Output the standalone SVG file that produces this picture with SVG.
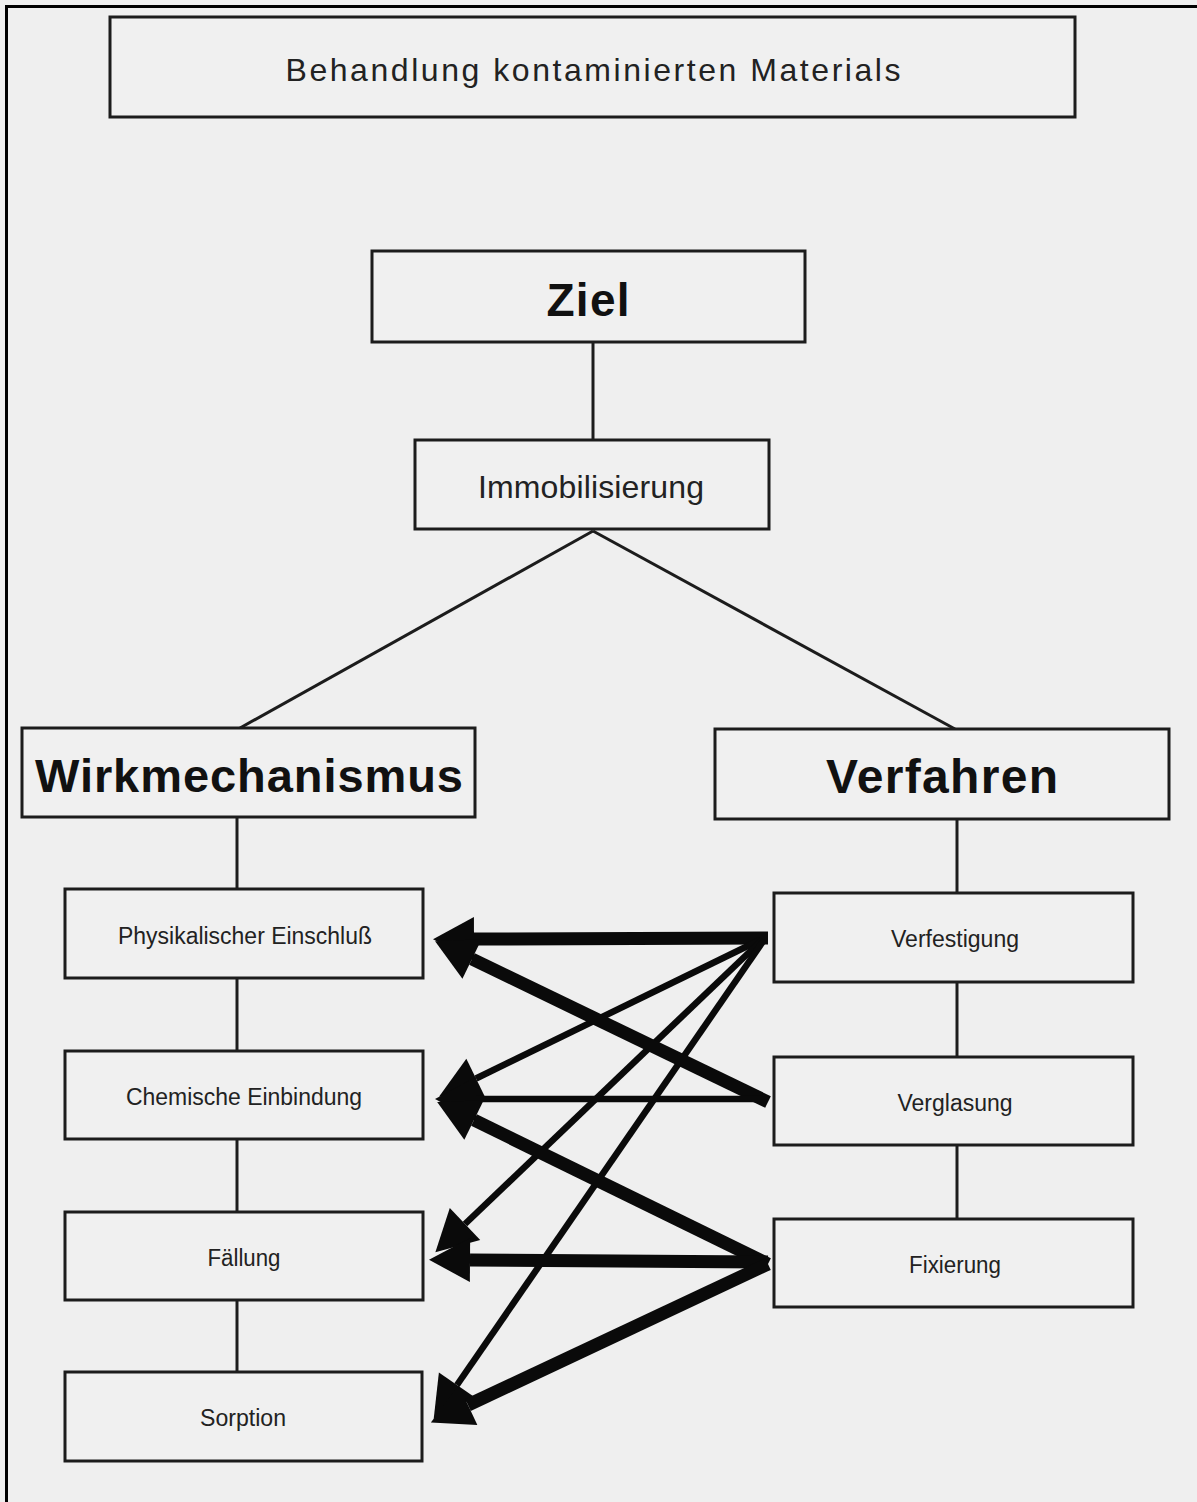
<svg xmlns="http://www.w3.org/2000/svg" width="1197" height="1502" viewBox="0 0 1197 1502">
<style>
.box{fill:#f0f0f0;stroke:#1c1c1c;stroke-width:3}
.ln{stroke:#1c1c1c;stroke-width:3;fill:none}
.thick{stroke:#0a0a0a;stroke-width:13;fill:none}
.thin{stroke:#0a0a0a;stroke-width:6.5;fill:none}
.t{font-family:"Liberation Sans",Arial,sans-serif;fill:#222;text-anchor:middle}
.b{font-family:"Liberation Sans",Arial,sans-serif;font-weight:bold;fill:#111;text-anchor:middle}
</style>
<defs>
<marker id="ah" markerUnits="userSpaceOnUse" viewBox="0 -23 42 46" markerWidth="42" markerHeight="46" refX="0" refY="0" orient="auto" overflow="visible">
<path d="M0,-22 L41,0 L0,22 Z" fill="#0a0a0a"/>
</marker>
</defs>
<rect x="0" y="0" width="1197" height="1502" fill="#efefef"/>
<path d="M6.5,1502 V6.5 H1197" fill="none" stroke="#000" stroke-width="3"/>

<g id="connectors">
<line class="ln" x1="593" y1="342" x2="593" y2="440"/>
<line class="ln" x1="593" y1="531" x2="240" y2="728"/>
<line class="ln" x1="593" y1="531" x2="955" y2="729"/>
<line class="ln" x1="237" y1="817" x2="237" y2="889"/>
<line class="ln" x1="237" y1="978" x2="237" y2="1051"/>
<line class="ln" x1="237" y1="1139" x2="237" y2="1212"/>
<line class="ln" x1="237" y1="1300" x2="237" y2="1372"/>
<line class="ln" x1="957" y1="819" x2="957" y2="893"/>
<line class="ln" x1="957" y1="982" x2="957" y2="1057"/>
<line class="ln" x1="957" y1="1145" x2="957" y2="1219"/>
<line class="thick" x1="768" y1="938" x2="474" y2="939" marker-end="url(#ah)"/>
<line class="thin" x1="760" y1="940" x2="476" y2="1078.5" marker-end="url(#ah)"/>
<line class="thin" x1="762" y1="940" x2="465" y2="1224" marker-end="url(#ah)"/>
<line class="thin" x1="764" y1="940" x2="457" y2="1385" marker-end="url(#ah)"/>
<line class="thick" x1="768" y1="1102" x2="472" y2="959" marker-end="url(#ah)"/>
<line class="thin" x1="762" y1="1099" x2="476" y2="1099" marker-end="url(#ah)"/>
<line class="thick" x1="768" y1="1264" x2="474" y2="1120" marker-end="url(#ah)"/>
<line class="thick" x1="768" y1="1262" x2="470" y2="1260" marker-end="url(#ah)"/>
<line class="thick" x1="768" y1="1264" x2="468" y2="1405" marker-end="url(#ah)"/>
</g>

<g id="n-behandlung"><rect class="box" x="110" y="17" width="965" height="100"/><text class="t" x="593" y="81" font-size="32" textLength="615">Behandlung kontaminierten Materials</text></g>
<g id="n-ziel"><rect class="box" x="372" y="251" width="433" height="91"/><text class="b" x="588" y="316" font-size="46" textLength="83">Ziel</text></g>
<g id="n-immob"><rect class="box" x="415" y="440" width="354" height="89"/><text class="t" x="591" y="498" font-size="32" textLength="226">Immobilisierung</text></g>
<g id="n-wirk"><rect class="box" x="22" y="728" width="453" height="89"/><text class="b" x="249" y="792" font-size="47" textLength="428">Wirkmechanismus</text></g>
<g id="n-verfahren"><rect class="box" x="715" y="729" width="454" height="90"/><text class="b" x="942" y="793" font-size="48" textLength="232">Verfahren</text></g>
<g id="n-physik"><rect class="box" x="65" y="889" width="358" height="89"/><text class="t" x="245" y="944" font-size="23" textLength="254" lengthAdjust="spacingAndGlyphs">Physikalischer Einschluß</text></g>
<g id="n-chem"><rect class="box" x="65" y="1051" width="358" height="88"/><text class="t" x="244" y="1105" font-size="23" textLength="236" lengthAdjust="spacingAndGlyphs">Chemische Einbindung</text></g>
<g id="n-faellung"><rect class="box" x="65" y="1212" width="358" height="88"/><text class="t" x="244" y="1266" font-size="23" textLength="73" lengthAdjust="spacingAndGlyphs">Fällung</text></g>
<g id="n-sorption"><rect class="box" x="65" y="1372" width="357" height="89"/><text class="t" x="243" y="1426" font-size="23" textLength="86" lengthAdjust="spacingAndGlyphs">Sorption</text></g>
<g id="n-verfestigung"><rect class="box" x="774" y="893" width="359" height="89"/><text class="t" x="955" y="947" font-size="23" textLength="128" lengthAdjust="spacingAndGlyphs">Verfestigung</text></g>
<g id="n-verglasung"><rect class="box" x="774" y="1057" width="359" height="88"/><text class="t" x="955" y="1111" font-size="23" textLength="115" lengthAdjust="spacingAndGlyphs">Verglasung</text></g>
<g id="n-fixierung"><rect class="box" x="774" y="1219" width="359" height="88"/><text class="t" x="955" y="1273" font-size="23" textLength="92" lengthAdjust="spacingAndGlyphs">Fixierung</text></g>
</svg>
